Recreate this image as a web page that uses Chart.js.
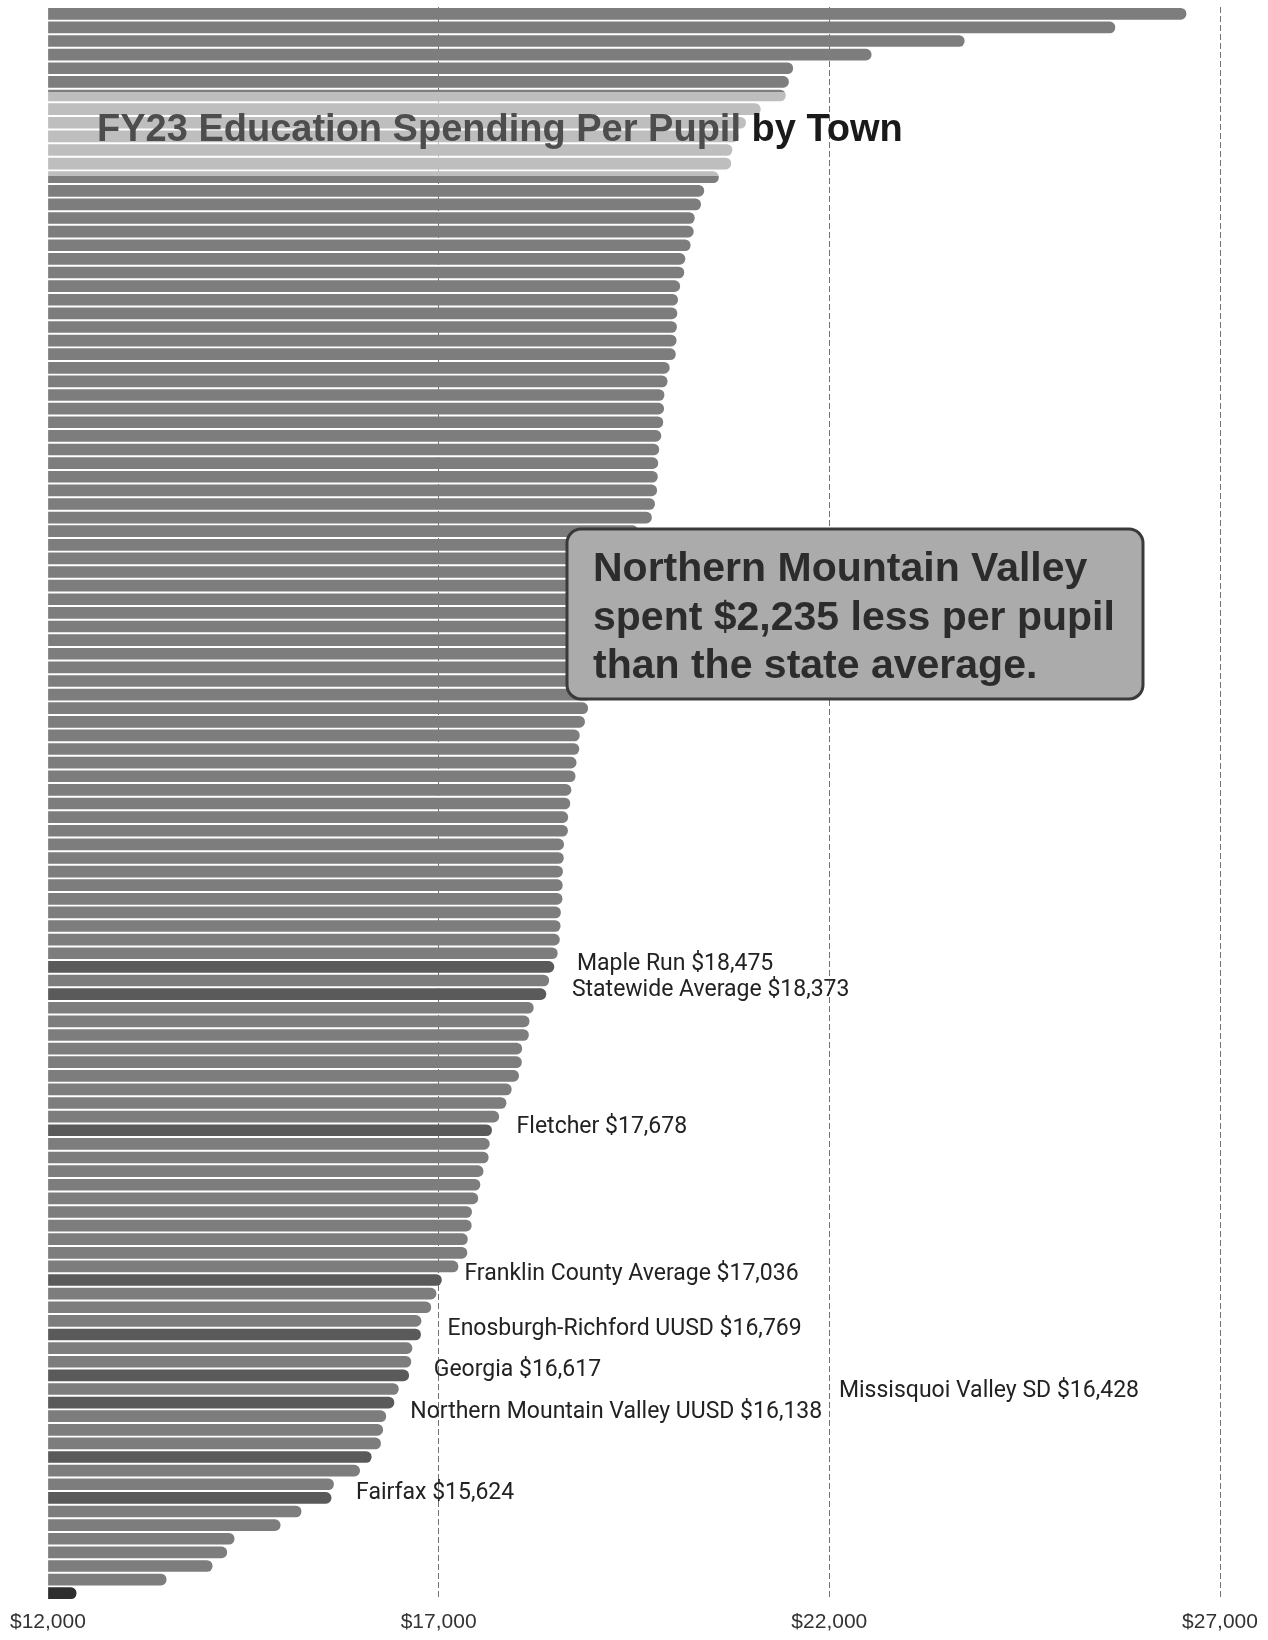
<!DOCTYPE html>
<html>
    <head>
        <title>FY23 Education Spending Per Pupil by Town</title>
        <meta charset="UTF-8" />
        <script src="https://cdn.jsdelivr.net/npm/chart.js"></script>
        <style>
            body { margin: 0; background: #fff; }
            #wrap { width: 1268px; height: 1640px; }
        </style>
    </head>
    <body>
        <div id="wrap">
            <canvas id="myChart" width="1268" height="1640"></canvas>
        </div>
        <script>
            // spending per pupil, largest first
            const spending = [
                26565, 25655, 23727, 22536, 21532, 21478, 21438, 21117, 20929, 20835,
                20755, 20740, 20581, 20394, 20353, 20273, 20260, 20220, 20153, 20139,
                20086, 20059, 20050, 20045, 20040, 20030, 19952, 19925, 19885, 19880,
                19870, 19845, 19818, 19805, 19800, 19791, 19764, 19724, 19550, 19483,
                19443, 19390, 19349, 19323, 19269, 19229, 19175, 19135, 19082, 19028,
                18961, 18908, 18868, 18801, 18795, 18760, 18747, 18694, 18680, 18653,
                18650, 18600, 18597, 18586, 18583, 18580, 18560, 18556, 18546, 18519,
                18475, 18410, 18373, 18212, 18158, 18150, 18064, 18060, 18024, 17930,
                17863, 17770, 17678, 17649, 17635, 17569, 17529, 17502, 17422, 17418,
                17368, 17362, 17248, 17036, 16967, 16900, 16775, 16769, 16659, 16645,
                16617, 16485, 16428, 16324, 16284, 16257, 16138, 15989, 15655, 15624,
                15240, 14972, 14383, 14289, 14102, 13513, 12361
            ];
            // the few towns that are named on the chart (by bar position)
            const namedIdx = [70, 72, 82, 93, 97, 100, 102, 106, 109];
            const namedTowns = ['Maple Run', 'Statewide Average', 'Fletcher', 'Franklin County Average',
                'Enosburgh-Richford UUSD', 'Georgia', 'Missisquoi Valley SD',
                'Northern Mountain Valley UUSD', 'Fairfax'];
            const towns = spending.map((v, i) => {
                const k = namedIdx.indexOf(i);
                return k >= 0 ? namedTowns[k] : 'Town ' + (i + 1);
            });
            const xTicks = [12000, 17000, 22000, 27000];

            // label placement next to the bar end (px)
            const labelOffsets = {
                'Maple Run': [23, -3],
                'Statewide Average': [26, -4],
                'Fletcher': [25, -3],
                'Franklin County Average': [23, -6],
                'Enosburgh-Richford UUSD': [27, -5],
                'Georgia': [25, -5],
                'Missisquoi Valley SD': [445, -11],
                'Northern Mountain Valley UUSD': [39, -45],
                'Fairfax': [25, -5]
            };

            const barColors = spending.map((v, i) => {
                if (i === spending.length - 1) return '#2e2e2e';
                return namedIdx.includes(i) ? '#5a5a5a' : '#7d7d7d';
            });

            const fmt = v => '$' + v.toLocaleString('en-US');

            const labelPlugin = {
                id: 'barLabels',
                afterDatasetsDraw(chart) {
                    const c = chart.ctx;
                    const xs = chart.scales.x, ys = chart.scales.y;
                    c.save();
                    c.font = '23px Roboto';
                    c.fillStyle = '#222';
                    c.textAlign = 'left';
                    c.textBaseline = 'middle';
                    namedIdx.forEach((idx) => {
                        const name = towns[idx];
                        const off = labelOffsets[name];
                        const x = xs.getPixelForValue(spending[idx]) + off[0];
                        const y = ys.getPixelForValue(idx) + off[1];
                        c.fillText(name + ' ' + fmt(spending[idx]), x, y);
                    });
                    c.restore();
                }
            };

            function roundBox(c, x, y, w, h, r) {
                c.beginPath();
                c.moveTo(x + r, y);
                c.lineTo(x + w - r, y);
                c.arcTo(x + w, y, x + w, y + r, r);
                c.lineTo(x + w, y + h - r);
                c.arcTo(x + w, y + h, x + w - r, y + h, r);
                c.lineTo(x + r, y + h);
                c.arcTo(x, y + h, x, y + h - r, r);
                c.lineTo(x, y + r);
                c.arcTo(x, y, x + r, y, r);
                c.closePath();
            }

            const overlayPlugin = {
                id: 'overlay',
                afterDraw(chart) {
                    const c = chart.ctx;
                    c.save();
                    // pale band behind the title
                    c.fillStyle = 'rgba(255,255,255,0.5)';
                    c.fillRect(chart.chartArea.left, 92, 760, 84);
                    // title
                    c.font = 'bold 38px "Liberation Sans"';
                    c.textBaseline = 'middle';
                    c.textAlign = 'left';
                    const part1 = 'FY23 Education Spending Per Pupil ';
                    c.fillStyle = '#4d4d4d';
                    c.fillText(part1, 97, 131);
                    c.fillStyle = '#1a1a1a';
                    c.fillText('by Town', 97 + c.measureText(part1).width, 131);

                    // callout box
                    roundBox(c, 567, 529, 576, 170, 14);
                    c.fillStyle = '#ababab';
                    c.fill();
                    c.lineWidth = 3;
                    c.strokeStyle = '#3a3a3a';
                    c.stroke();
                    c.font = 'bold 41px "Liberation Sans"';
                    c.fillStyle = '#2c2c2c';
                    const nmv = spending[namedIdx[7]], avg = spending[namedIdx[1]];
                    c.fillText('Northern Mountain Valley', 593, 570);
                    c.fillText('spent ' + fmt(avg - nmv) + ' less per pupil', 593, 619);
                    c.fillText('than the state average.', 593, 667);
                    c.restore();
                }
            };

            const ctx = document.getElementById('myChart').getContext('2d');
            const myChart = new Chart(ctx, {
                type: 'bar',
                data: {
                    labels: towns,
                    datasets: [{
                        data: spending,
                        backgroundColor: barColors,
                        barThickness: 11,
                        borderRadius: 5.5,
                        borderSkipped: 'start',
                        base: 12000
                    }]
                },
                options: {
                    indexAxis: 'y',
                    responsive: false,
                    animation: false,
                    layout: { padding: { left: 47, right: 48, top: 7, bottom: 0 } },
                    plugins: {
                        legend: { display: false },
                        tooltip: { enabled: false }
                    },
                    scales: {
                        x: {
                            min: 12000,
                            max: 27000,
                            z: 1,
                            afterBuildTicks: (s) => { s.ticks = xTicks.map(v => ({ value: v })); },
                            afterFit: (s) => { s.height = 40; },
                            border: { display: false, dash: [6, 3] },
                            grid: {
                                drawTicks: false,
                                lineWidth: 1,
                                color: (c) => c.tick && c.tick.value === 12000 ? 'rgba(0,0,0,0)' : 'rgba(40,40,40,0.65)'
                            },
                            ticks: {
                                padding: 10,
                                color: '#333',
                                font: { family: '"Liberation Sans"', size: 21 },
                                callback: (v) => fmt(v)
                            }
                        },
                        y: {
                            display: false,
                            grid: { display: false }
                        }
                    }
                },
                plugins: [labelPlugin, overlayPlugin]
            });
        </script>
    </body>
</html>
